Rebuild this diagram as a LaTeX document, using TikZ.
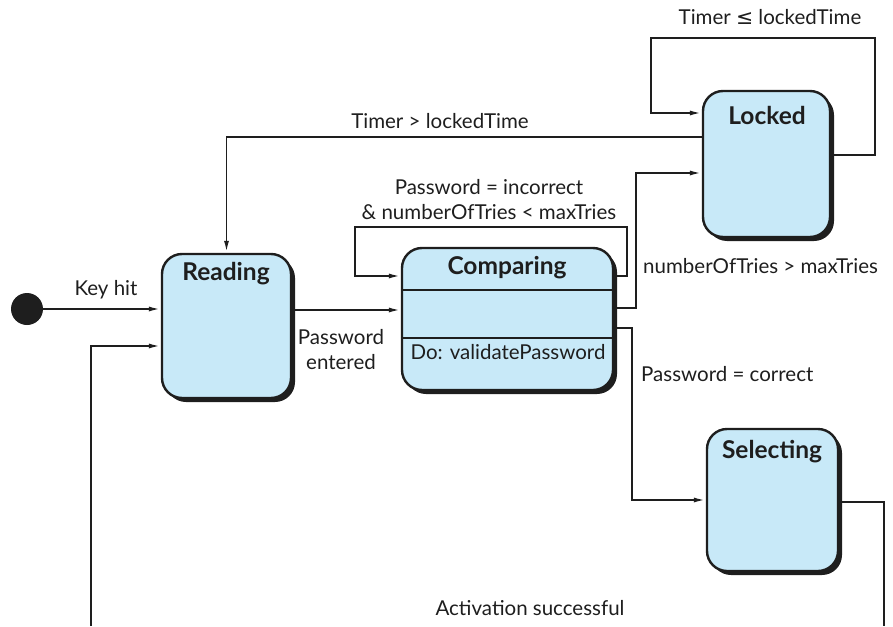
\documentclass[tikz,border=0pt]{standalone}
\usepackage{fontspec}
\setmainfont{Lato}
\newfontfamily\symfont{DejaVu Sans}
\usetikzlibrary{arrows.meta,shadows}
\definecolor{stateblue}{RGB}{200,233,248}
\definecolor{inkblack}{RGB}{30,30,30}

\begin{document}
\begin{tikzpicture}[x=1pt,y=-1pt,
    state/.style={draw=inkblack,line width=2.4pt,fill=stateblue,rounded corners=20pt,
        minimum width=129pt,minimum height=144pt,inner sep=0pt,
        drop shadow={shadow xshift=4pt,shadow yshift=-4pt,opacity=1,fill=inkblack}},
    title/.style={font=\fontsize{24.5}{28}\selectfont\bfseries,text=inkblack},
    lbl/.style={font=\fontsize{20.5}{25}\selectfont,text=inkblack,inner sep=0pt,align=center},
    trans/.style={draw=inkblack,line width=1.9pt,-{Latex[length=12pt,width=5pt]}},
    link/.style={draw=inkblack,line width=1.9pt}]
    \useasboundingbox (0,0) rectangle (893,626);
    % states
    \node[circle,fill=inkblack,minimum size=32pt,inner sep=0pt] (init) at (27,309) {};
    \node[state] (reading) at (226.5,326) {};
    \node[state,minimum width=211pt,minimum height=142pt] (comparing) at (507.5,319) {};
    \node[state,minimum width=127pt,minimum height=146pt] (locked) at (766.5,164) {};
    \node[state,minimum width=131pt,minimum height=142pt] (selecting) at (772.5,500) {};
    \node[title] (readingname) at (226,274) {Reading};
    \node[title] (comparingname) at (507,268) {Comparing};
    \node[title] (lockedname) at (767,115) {Locked};
    \node[title] (selectingname) at (772,452) {Selecting};
    % compartments
    \draw[link] (comparing.west |- 0,290) -- (comparing.east |- 0,290);
    \draw[link] (comparing.west |- 0,338) -- (comparing.east |- 0,338);
    \node[lbl] (doaction) at (508,352) {Do: validatePassword};
    % free ends at the bottom
    \coordinate (backin) at (91,626);
    \coordinate (backout) at (884,626);
    % loop corners
    \coordinate (cloopright) at (627,227);
    \coordinate (cloopleft) at (355,227);
    \coordinate (lloopright) at (875,38);
    \coordinate (lloopleft) at (651,38);
    % transitions
    \draw[trans] (init) -- (reading.west |- init)
        node[lbl,midway,above=9pt,xshift=4pt] (keyhit) {Key hit};
    \draw[trans] ([yshift=16pt]reading.east) -- ([yshift=16pt]reading.east -| comparing.west);
    \node[lbl] (pwentered) at (341,350) {Password\\entered};
    \draw[trans] ([yshift=43pt]comparing.east) -| (cloopright) -- (cloopleft)
        |- ([yshift=43pt]comparing.west);
    \node[lbl] (pwincorrect) at (489,199.5) {Password = incorrect\\\& numberOfTries < maxTries};
    \draw[trans] ([yshift=11pt]comparing.east) -- ++(22,0) |- ([yshift=-9pt]locked.west);
    \node[lbl,anchor=west] (toomany) at (643,266) {numberOfTries > maxTries};
    \draw[trans] ([yshift=-9pt]comparing.east) -- ++(18,0) |- (selecting.west);
    \node[lbl,anchor=west] (pwcorrect) at (641,374) {Password = correct};
    \draw[trans] ([yshift=27pt]locked.west) -| (reading.north);
    \node[lbl] (timerover) at (440,121) {Timer > lockedTime};
    \draw[trans] ([yshift=9pt]locked.east) -| (lloopright) -- (lloopleft)
        |- ([yshift=51pt]locked.west);
    \node[lbl] (timerunder) at (770,17) {Timer {\symfont ≤} lockedTime};
    \draw[link] ([yshift=-2pt]selecting.east) -| (backout);
    \draw[trans] (backin) |- ([yshift=-20pt]reading.west);
    \node[lbl] (activated) at (530,608) {Activation successful};
\end{tikzpicture}
\end{document}
